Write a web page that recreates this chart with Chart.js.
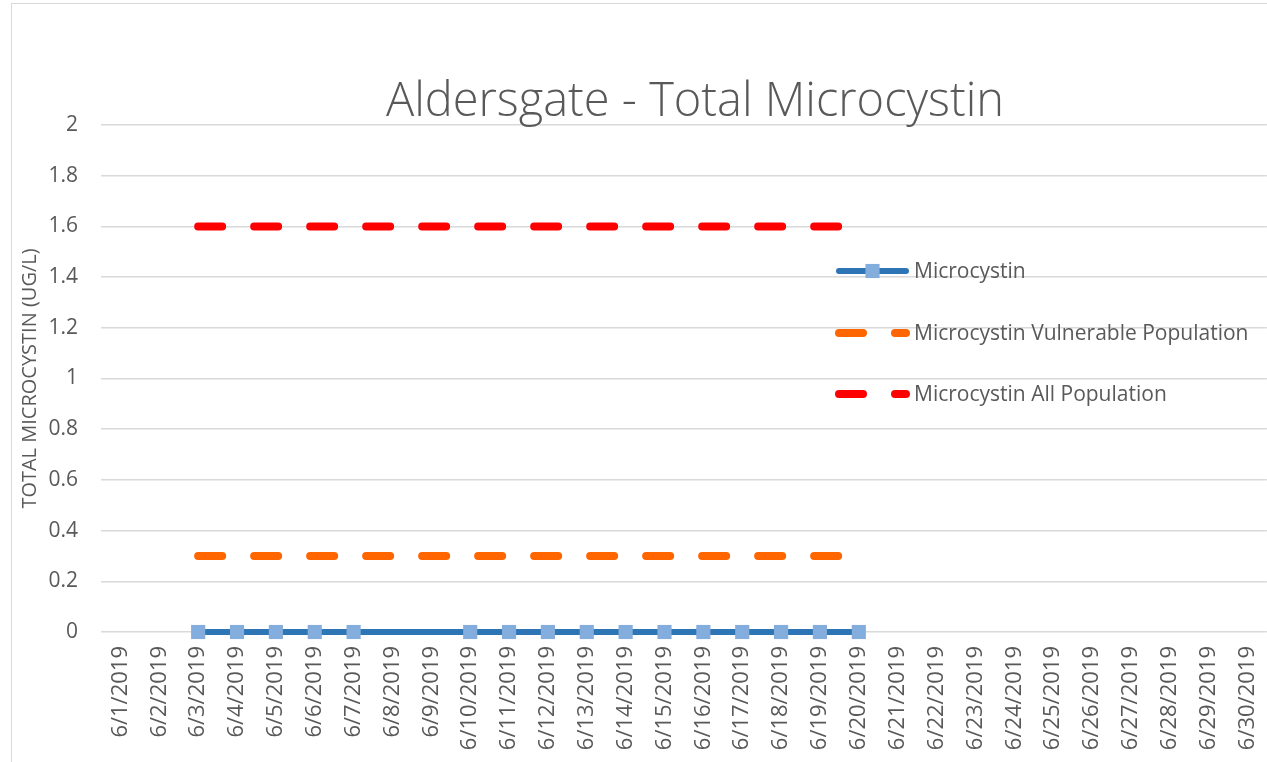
<!DOCTYPE html>
<html>
<head>
<meta charset="utf-8">
<script src="https://cdn.jsdelivr.net/npm/chart.js@4.4.1/dist/chart.umd.min.js"></script>
<style>
  html, body { margin: 0; padding: 0; background: #fff; overflow: hidden; }
  #wrap { position: relative; width: 1267px; height: 762px; overflow: hidden; }
  #frame { position: absolute; left: 11px; top: 3px; width: 1300px; height: 800px; border: 1px solid #d9d9d9; }
  #title { position: absolute; left: 0; width: 1390px; top: 66px; text-align: center;
           font-family: "Open Sans", sans-serif; font-weight: 300; font-size: 47px; color: #595959; white-space: nowrap; }
  canvas { position: absolute; left: 0; top: 0; }
</style>
</head>
<body>
<div id="wrap">
  <div id="frame"></div>
  <canvas id="chart" width="1280" height="762"></canvas>
  <div id="title">Aldersgate - Total Microcystin</div>
</div>
<script>
// Fechas del eje X
const categories = ['6/1/2019','6/2/2019','6/3/2019','6/4/2019','6/5/2019','6/6/2019','6/7/2019','6/8/2019','6/9/2019','6/10/2019',
  '6/11/2019','6/12/2019','6/13/2019','6/14/2019','6/15/2019','6/16/2019','6/17/2019','6/18/2019','6/19/2019','6/20/2019',
  '6/21/2019','6/22/2019','6/23/2019','6/24/2019','6/25/2019','6/26/2019','6/27/2019','6/28/2019','6/29/2019','6/30/2019'];

// Series (null = sin muestra)
const microcystin = [null,null,0,0,0,0,0,null,null,0, 0,0,0,0,0,0,0,0,0,0, null,null,null,null,null,null,null,null,null,null];
const vulnerable = [null,null,0.3,0.3,0.3,0.3,0.3,0.3,0.3,0.3, 0.3,0.3,0.3,0.3,0.3,0.3,0.3,0.3,0.3,0.3, null,null,null,null,null,null,null,null,null,null];
const allPopulation = [null,null,1.6,1.6,1.6,1.6,1.6,1.6,1.6,1.6, 1.6,1.6,1.6,1.6,1.6,1.6,1.6,1.6,1.6,1.6, null,null,null,null,null,null,null,null,null,null];

const seriesNames = ['Microcystin', 'Microcystin Vulnerable Population', 'Microcystin All Population'];
const yMin = 0, yMax = 2, yStep = 0.2;

const textColor = '#595959';
const fontFamily = '"Open Sans", sans-serif';

// Leyenda dibujada a mano encima del área del gráfico
const legendPlugin = {
  id: 'overlayLegend',
  afterDraw(chart) {
    const ctx = chart.ctx;
    const x0 = 839, x1 = 906;
    const rows = [271, 333, 394];
    chart.data.datasets.forEach((ds, i) => {
      const y = rows[i];
      ctx.save();
      ctx.strokeStyle = ds.borderColor;
      ctx.lineWidth = ds.borderWidth;
      ctx.lineCap = 'round';
      ctx.setLineDash(ds.borderDash || []);
      ctx.beginPath();
      ctx.moveTo(x0, y);
      ctx.lineTo(x1, y);
      ctx.stroke();
      if (ds.pointRadius > 0) {
        ctx.setLineDash([]);
        ctx.fillStyle = ds.pointBackgroundColor;
        const s = ds.pointRadius * Math.SQRT1_2;
        ctx.fillRect((x0 + x1) / 2 - s, y - s, s * 2, s * 2);
      }
      ctx.fillStyle = textColor;
      ctx.font = '21px ' + fontFamily;
      ctx.textBaseline = 'middle';
      ctx.fillText(ds.label, 914, y + 1);
      ctx.restore();
    });
  }
};

const ctx = document.getElementById('chart').getContext('2d');
new Chart(ctx, {
  type: 'line',
  data: {
    labels: categories,
    datasets: [{
      label: seriesNames[0],
      data: microcystin,
      borderColor: '#2E75B6',
      borderWidth: 6,
      pointStyle: 'rect',
      pointRadius: 10,
      pointBackgroundColor: '#83ADDC',
      pointBorderWidth: 0,
      pointHoverRadius: 10,
      spanGaps: true,
      clip: false,
      order: 0
    }, {
      label: seriesNames[1],
      data: vulnerable,
      borderColor: '#FF6600',
      borderWidth: 8,
      borderDash: [24, 32],
      borderCapStyle: 'round',
      pointRadius: 0,
      order: 1
    }, {
      label: seriesNames[2],
      data: allPopulation,
      borderColor: '#FF0000',
      borderWidth: 8,
      borderDash: [24, 32],
      borderCapStyle: 'round',
      pointRadius: 0,
      order: 2
    }]
  },
  options: {
    responsive: false,
    animation: false,
    layout: { padding: { left: 0, right: 6, top: 125, bottom: 0 } },
    plugins: {
      legend: { display: false },
      title: { display: false },
      tooltip: { enabled: false }
    },
    scales: {
      x: {
        offset: true,
        grid: { display: false, offset: true },
        border: { display: false },
        ticks: {
          color: textColor,
          font: { family: fontFamily, size: 22 },
          minRotation: 90,
          maxRotation: 90,
          autoSkip: false,
          padding: 6
        },
        afterFit(scale) { scale.height = 130; }
      },
      y: {
        min: yMin,
        max: yMax,
        ticks: {
          stepSize: yStep,
          color: textColor,
          font: { family: fontFamily, size: 21 },
          padding: 23,
          callback: (v) => String(Math.round(v * 10) / 10)
        },
        grid: { color: '#d9d9d9', lineWidth: 1.5, drawTicks: false },
        border: { display: false },
        title: {
          display: true,
          text: 'TOTAL MICROCYSTIN (UG/L)',
          color: textColor,
          font: { family: fontFamily, size: 20 },
          padding: { top: 18, bottom: 0 }
        },
        afterFit(scale) { scale.width = 101; }
      }
    }
  },
  plugins: [legendPlugin]
});
</script>
</body>
</html>
